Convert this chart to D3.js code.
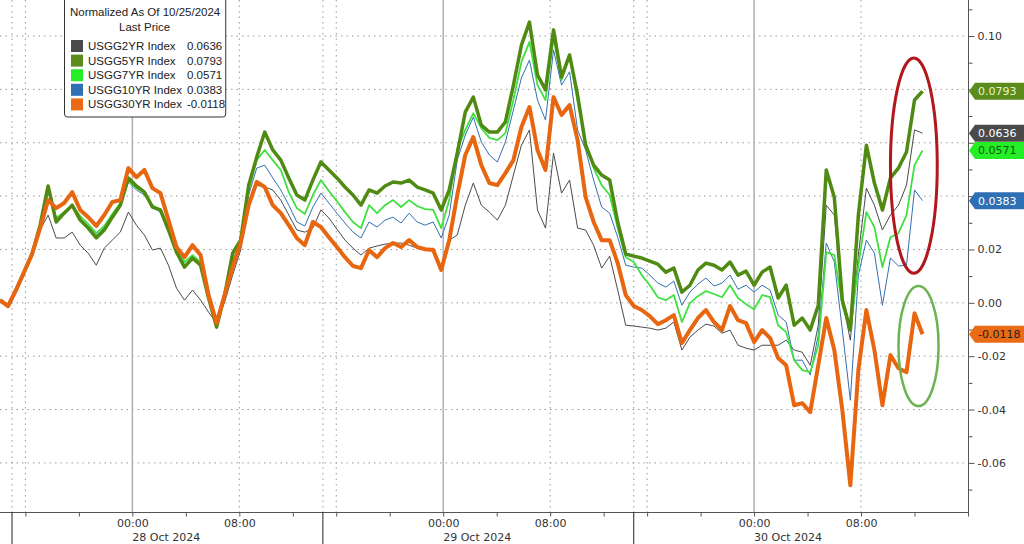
<!DOCTYPE html>
<meta charset="utf-8">
<style>
body { margin: 0; background: #fff; }
svg { display: block; font-family: "DejaVu Sans", sans-serif; }
.grid line { stroke: #999; stroke-width: 1; stroke-dasharray: 1.5,4; }
.midnight line { stroke: #b0b0b0; stroke-width: 1.5; }
.axis path, .axis line { stroke: #555; }
.axis text { font-size: 11px; fill: #333; font-family: "DejaVu Sans", sans-serif; }
.legend text { font-size: 11.5px; fill: #222; font-family: "Liberation Sans", Arial, sans-serif; }
.tag text { font-size: 11px; }
</style>
<body>
<script src="https://d3js.org/d3.v7.min.js"></script>
<script>

var width = 1024,
    height = 544;
var plotRight = 968,
    plotBottom = 512;

// legend / series
var seriesNames = ["USGG2YR Index", "USGG5YR Index", "USGG7YR Index", "USGG10YR Index", "USGG30YR Index"];
var lastPrice = [0.0636, 0.0793, 0.0571, 0.0383, -0.0118];

// trading hours since 27 Oct 15:00 (gaps between sessions left out), 36 minute bars
var hours = [-0.9,-0.3,0.3,0.9,1.5,2.1,2.7,3.3,3.9,4.5,
  5.1,5.7,6.3,6.9,7.5,8.1,8.7,9.3,9.9,10.5,
  11.1,11.7,12.3,12.9,13.5,14.1,14.7,15.3,15.9,16.5,
  17.1,17.7,18.3,18.9,19.5,20.1,20.7,21.3,21.9,22.5,
  23.1,23.7,24.3,24.9,25.5,26.1,26.7,27.3,27.9,28.5,
  29.1,29.7,30.3,30.9,31.5,32.1,32.7,33.3,33.9,34.5,
  35.1,35.7,36.3,36.9,37.5,38.1,38.7,39.3,39.9,40.5,
  41.1,41.7,42.3,42.9,43.5,44.1,44.7,45.3,45.9,46.5,
  47.1,47.7,48.3,48.9,49.5,50.1,50.7,51.3,51.9,52.5,
  53.1,53.7,54.3,54.9,55.5,56.1,56.7,57.3,57.9,58.5,
  59.1,59.7,60.3,60.9,61.5,62.1,62.7,63.3,63.9,64.5,
  65.1,65.7,66.3,66.9,67.5,68.1];

var usgg2yr = [0.0010,-0.0012,0.0048,0.0115,0.0183,0.0273,0.0329,0.0243,0.0243,0.0265,
  0.0216,0.0186,0.0141,0.0205,0.0235,0.0265,0.0340,0.0291,0.0254,0.0198,
  0.0205,0.0141,0.0055,0.0010,0.0048,0.0010,-0.0035,-0.0076,0.0003,0.0104,
  0.0198,0.0366,0.0441,0.0434,0.0423,0.0385,0.0329,0.0273,0.0265,0.0280,
  0.0348,0.0318,0.0276,0.0235,0.0205,0.0179,0.0205,0.0213,0.0220,0.0224,
  0.0224,0.0216,0.0205,0.0198,0.0205,0.0134,0.0235,0.0254,0.0366,0.0449,
  0.0366,0.0340,0.0310,0.0366,0.0479,0.0591,0.0648,0.0348,0.0280,0.0561,
  0.0411,0.0460,0.0280,0.0273,0.0216,0.0130,0.0175,0.0048,-0.0084,-0.0087,
  -0.0091,-0.0095,-0.0102,-0.0095,-0.0072,-0.0177,-0.0129,-0.0102,-0.0080,-0.0087,
  -0.0114,-0.0102,-0.0159,-0.0170,-0.0177,-0.0159,-0.0159,-0.0159,-0.0140,-0.0177,
  -0.0185,-0.0234,-0.0084,0.0366,0.0329,0.0010,-0.0140,0.0179,0.0430,0.0366,
  0.0273,0.0329,0.0366,0.0441,0.0648,0.0636];

var usgg5yr = [0.0010,-0.0012,0.0048,0.0115,0.0183,0.0291,0.0438,0.0303,0.0336,0.0366,
  0.0310,0.0280,0.0243,0.0273,0.0321,0.0366,0.0468,0.0438,0.0415,0.0359,
  0.0348,0.0273,0.0190,0.0134,0.0168,0.0141,0.0018,-0.0091,0.0029,0.0186,
  0.0235,0.0441,0.0546,0.0640,0.0573,0.0535,0.0468,0.0404,0.0385,0.0460,
  0.0528,0.0498,0.0468,0.0434,0.0404,0.0366,0.0423,0.0411,0.0438,0.0453,
  0.0449,0.0460,0.0434,0.0423,0.0411,0.0348,0.0423,0.0561,0.0715,0.0771,
  0.0666,0.0640,0.0640,0.0678,0.0816,0.0966,0.1052,0.0854,0.0798,0.1023,
  0.0846,0.0929,0.0779,0.0591,0.0516,0.0479,0.0460,0.0303,0.0183,0.0175,
  0.0168,0.0156,0.0145,0.0115,0.0130,0.0040,0.0066,0.0123,0.0149,0.0141,
  0.0123,0.0153,0.0104,0.0119,0.0066,0.0115,0.0134,0.0018,0.0066,-0.0084,
  -0.0057,-0.0102,-0.0009,0.0498,0.0396,0.0010,-0.0102,0.0329,0.0591,0.0449,
  0.0348,0.0468,0.0505,0.0565,0.0760,0.0793];

var usgg7yr = [0.0010,-0.0012,0.0048,0.0115,0.0183,0.0284,0.0423,0.0318,0.0340,0.0366,
  0.0325,0.0295,0.0261,0.0288,0.0333,0.0374,0.0460,0.0430,0.0415,0.0366,
  0.0348,0.0280,0.0198,0.0153,0.0179,0.0153,0.0018,-0.0084,0.0036,0.0179,
  0.0235,0.0423,0.0535,0.0573,0.0535,0.0498,0.0415,0.0355,0.0333,0.0404,
  0.0460,0.0419,0.0381,0.0340,0.0303,0.0280,0.0366,0.0336,0.0366,0.0385,
  0.0359,0.0385,0.0363,0.0351,0.0348,0.0280,0.0385,0.0573,0.0648,0.0711,
  0.0655,0.0618,0.0610,0.0636,0.0760,0.0903,0.0978,0.0816,0.0760,0.0996,
  0.0835,0.0929,0.0753,0.0603,0.0505,0.0441,0.0404,0.0280,0.0171,0.0153,
  0.0104,0.0066,0.0021,0.0010,0.0029,-0.0072,-0.0001,0.0025,0.0044,0.0033,
  0.0021,0.0066,0.0018,-0.0005,-0.0024,0.0029,0.0021,-0.0084,-0.0110,-0.0215,
  -0.0252,-0.0260,-0.0159,0.0190,0.0179,-0.0009,-0.0102,0.0141,0.0340,0.0284,
  0.0134,0.0246,0.0261,0.0329,0.0516,0.0571];

var usgg10yr = [0.0010,-0.0012,0.0048,0.0115,0.0183,0.0284,0.0415,0.0310,0.0333,0.0359,
  0.0318,0.0288,0.0254,0.0280,0.0329,0.0366,0.0453,0.0423,0.0404,0.0359,
  0.0340,0.0273,0.0190,0.0141,0.0168,0.0153,0.0010,-0.0084,0.0029,0.0160,
  0.0224,0.0404,0.0505,0.0516,0.0468,0.0423,0.0366,0.0303,0.0288,0.0359,
  0.0411,0.0374,0.0336,0.0299,0.0265,0.0243,0.0303,0.0284,0.0310,0.0321,
  0.0299,0.0336,0.0303,0.0291,0.0303,0.0243,0.0329,0.0535,0.0629,0.0696,
  0.0603,0.0554,0.0528,0.0603,0.0723,0.0843,0.0910,0.0760,0.0685,0.0948,
  0.0816,0.0866,0.0648,0.0573,0.0460,0.0359,0.0336,0.0246,0.0141,0.0134,
  0.0130,0.0104,0.0074,0.0059,0.0081,-0.0009,0.0040,0.0070,0.0093,0.0063,
  0.0074,0.0104,0.0051,0.0066,0.0040,0.0066,0.0048,-0.0046,-0.0072,-0.0215,
  -0.0215,-0.0271,-0.0121,0.0224,0.0153,-0.0102,-0.0365,0.0104,0.0235,0.0186,
  -0.0009,0.0168,0.0138,0.0141,0.0423,0.0383];

var usgg30yr = [0.0010,-0.0012,0.0048,0.0115,0.0183,0.0280,0.0385,0.0355,0.0374,0.0415,
  0.0348,0.0321,0.0288,0.0329,0.0378,0.0385,0.0505,0.0471,0.0498,0.0430,
  0.0411,0.0310,0.0209,0.0171,0.0216,0.0179,0.0029,-0.0076,0.0029,0.0134,
  0.0224,0.0366,0.0453,0.0434,0.0366,0.0336,0.0291,0.0243,0.0216,0.0303,
  0.0284,0.0246,0.0209,0.0171,0.0138,0.0130,0.0198,0.0171,0.0205,0.0224,
  0.0209,0.0235,0.0209,0.0201,0.0198,0.0123,0.0235,0.0404,0.0554,0.0621,
  0.0516,0.0449,0.0441,0.0486,0.0535,0.0659,0.0734,0.0573,0.0498,0.0771,
  0.0704,0.0741,0.0610,0.0396,0.0303,0.0235,0.0235,0.0149,0.0029,-0.0012,
  -0.0027,-0.0050,-0.0080,-0.0065,-0.0046,-0.0151,-0.0102,-0.0057,-0.0027,-0.0072,
  -0.0102,-0.0012,-0.0065,-0.0076,-0.0147,-0.0102,-0.0132,-0.0207,-0.0234,-0.0384,
  -0.0376,-0.0410,-0.0234,-0.0057,-0.0177,-0.0402,-0.0684,-0.0252,-0.0027,-0.0177,
  -0.0384,-0.0196,-0.0245,-0.0260,-0.0039,-0.0118];

// x axis: 4-hourly ticks, labels at 00:00 and 08:00
var tickHours = [1, 5, 9, 13, 17, 21, 24.25, 28.25, 32.25, 36.25, 40.25, 44.25, 47.5, 51.5, 55.5, 59.5, 63.5, 67.5, 71.5];
var labelHours = [9, 17, 32.25, 40.25, 55.5, 63.5];
var labelText = ["00:00", "08:00", "00:00", "08:00", "00:00", "08:00"];
var dayHours = [9, 32.25, 55.5];
var dayText = ["28 Oct 2024", "29 Oct 2024", "30 Oct 2024"];
var sessionStarts = [0, 23.25, 46.5];
var dottedHours = [1, 17, 24.25, 40.25, 47.5, 63.5];

// y axis
var yMajor = [-0.06, -0.04, -0.02, 0, 0.02, 0.04, 0.06, 0.08, 0.10];
var yMinor = [-0.07, -0.05, -0.03, -0.01, 0.01, 0.03, 0.05, 0.07, 0.09, 0.11];

var allSeries = [usgg2yr, usgg5yr, usgg7yr, usgg10yr, usgg30yr];
var lineColor = ["#4b4b4b", "#4f8a12", "#3fe03f", "#3470b2", "#e8660f"];
var lineWidth = [1, 3.5, 1.8, 1, 4];
var tagColor = ["#4a4a4a", "#5b8c1c", "#26ee26", "#2f6fb3", "#eb6a16"];
var tagText = ["#ffffff", "#eef3c8", "#0d5a0d", "#ffffff", "#222222"];
var drawOrder = [0, 3, 2, 1, 4];

var x = d3.scaleLinear().domain([-0.9, 71.5]).range([0, plotRight]);
var y = d3.scaleLinear().domain([-0.0784, 0.1135]).range([plotBottom, 0]);

var svg = d3.select("body").append("svg")
    .attr("width", width)
    .attr("height", height);

// grid
var grid = svg.append("g").attr("class", "grid");
grid.selectAll("line.h").data(yMajor).enter().append("line")
    .attr("class", "h")
    .attr("x1", 0).attr("x2", plotRight)
    .attr("y1", function(d){ return y(d); })
    .attr("y2", function(d){ return y(d); });
grid.selectAll("line.v").data(dottedHours.concat(sessionStarts)).enter().append("line")
    .attr("class", "v")
    .attr("x1", function(d){ return x(d); })
    .attr("x2", function(d){ return x(d); })
    .attr("y1", 0).attr("y2", plotBottom);

svg.append("g").attr("class", "midnight")
  .selectAll("line").data(dayHours).enter().append("line")
    .attr("x1", function(d){ return x(d); })
    .attr("x2", function(d){ return x(d); })
    .attr("y1", 0).attr("y2", plotBottom);

// series
var line = d3.line()
    .x(function(d, i){ return x(hours[i]); })
    .y(function(d){ return y(d); });

svg.append("g").selectAll("path")
    .data(drawOrder)
  .enter().append("path")
    .attr("d", function(s){ return line(allSeries[s]); })
    .attr("fill", "none")
    .attr("stroke", function(s){ return lineColor[s]; })
    .attr("stroke-width", function(s){ return lineWidth[s]; })
    .attr("stroke-linejoin", "round");

// hand drawn ellipses (data coords: hours / yield change)
var redOval = {t0: 65.7, t1: 69.2, v0: 0.0111, v1: 0.0918};
var greenOval = {t0: 66.3, t1: 69.3, v0: -0.0387, v1: 0.0063};
[[redOval, "#b3161c", 3], [greenOval, "#6cb452", 2.5]].forEach(function(o){
  var e = o[0];
  svg.append("ellipse")
    .attr("cx", (x(e.t0) + x(e.t1)) / 2)
    .attr("cy", (y(e.v0) + y(e.v1)) / 2)
    .attr("rx", (x(e.t1) - x(e.t0)) / 2)
    .attr("ry", (y(e.v0) - y(e.v1)) / 2)
    .attr("fill", "none")
    .attr("stroke", o[1])
    .attr("stroke-width", o[2]);
});

// last price tag positions, used to hide the axis labels they cover
var tagY = lastPrice.map(function(v){ return y(v); });

// right axis
var yAxis = svg.append("g").attr("class", "axis")
    .attr("transform", "translate(" + (plotRight + 0.5) + ",0)")
    .call(d3.axisRight(y).tickValues(yMajor).tickSize(6).tickSizeOuter(0)
      .tickFormat(function(d){ return d.toFixed(2); }));
yAxis.select(".domain").attr("d", "M0,0V" + plotBottom);
yAxis.selectAll("text").attr("x", 9)
    .style("display", function(d){
      var hidden = tagY.some(function(t){ return Math.abs(t - y(d)) < 14; });
      return hidden ? "none" : null;
    });

svg.append("g").attr("class", "axis")
    .attr("transform", "translate(" + (plotRight + 0.5) + ",0)")
    .call(d3.axisRight(y).tickValues(yMinor).tickSize(4).tickFormat(""))
  .select(".domain").remove();

// bottom axis
var xAxis = svg.append("g").attr("class", "axis")
    .attr("transform", "translate(0," + (plotBottom + 0.5) + ")")
    .call(d3.axisBottom(x).tickValues(tickHours).tickSize(4).tickSizeOuter(0)
      .tickFormat(function(d){ var i = labelHours.indexOf(d); return i < 0 ? "" : labelText[i]; }));
xAxis.select(".domain").attr("d", "M0,0H" + (plotRight + 1));

svg.append("g").selectAll("line")
    .data(sessionStarts).enter().append("line")
    .attr("x1", function(d){ return x(d); })
    .attr("x2", function(d){ return x(d); })
    .attr("y1", plotBottom).attr("y2", height)
    .attr("stroke", "#222");

svg.append("g").selectAll("text")
    .data(dayHours).enter().append("text")
    .attr("x", function(d){ return x(d); })
    .attr("y", 541)
    .style("font-size", "11px")
    .attr("fill", "#333")
    .text(function(d, i){ return dayText[i]; });

// last price tags
var tagH = 17;
var tags = svg.append("g").selectAll("g.tag")
    .data([1, 0, 2, 3, 4])
  .enter().append("g")
    .attr("class", "tag")
    .attr("transform", function(s){ return "translate(" + (plotRight + 1) + "," + tagY[s] + ")"; });
tags.append("path")
    .attr("d", "M0,0L6," + (-tagH/2) + "H60V" + (tagH/2) + "H6Z")
    .attr("fill", function(s){ return tagColor[s]; });
tags.append("text")
    .attr("x", 9).attr("y", 4)
    .attr("fill", function(s){ return tagText[s]; })
    .text(function(s){ return lastPrice[s].toFixed(4); });

// legend
var legend = svg.append("g").attr("class", "legend").attr("transform", "translate(64,0)");
var legendBox = legend.append("rect")
    .attr("x", 0.5).attr("y", -3)
    .attr("height", 120)
    .attr("rx", 3)
    .attr("fill", "#fff")
    .attr("stroke", "#333");
var title = legend.append("text").attr("x", 6).attr("y", 16).text("Normalized As Of 10/25/2024");
var boxW = title.node().getComputedTextLength() + 11;
legendBox.attr("width", boxW);
legend.append("text").attr("x", boxW / 2).attr("y", 31).attr("text-anchor", "middle").text("Last Price");

var rows = legend.selectAll("g.row").data(seriesNames).enter().append("g")
    .attr("class", "row")
    .attr("transform", function(d, i){ return "translate(0," + (46 + i * 14.6) + ")"; });
rows.append("rect")
    .attr("x", 7).attr("y", -6).attr("width", 12).attr("height", 12)
    .attr("fill", function(d, i){ return tagColor[i]; });
rows.each(function(d, i){
  var r = d3.select(this);
  var nm = r.append("text").attr("x", 24).attr("y", 4).text(d);
  var vx = Math.max(123, 24 + nm.node().getComputedTextLength() + 4);
  r.append("text").attr("x", vx).attr("y", 4).text(lastPrice[i].toFixed(4));
});

</script>
